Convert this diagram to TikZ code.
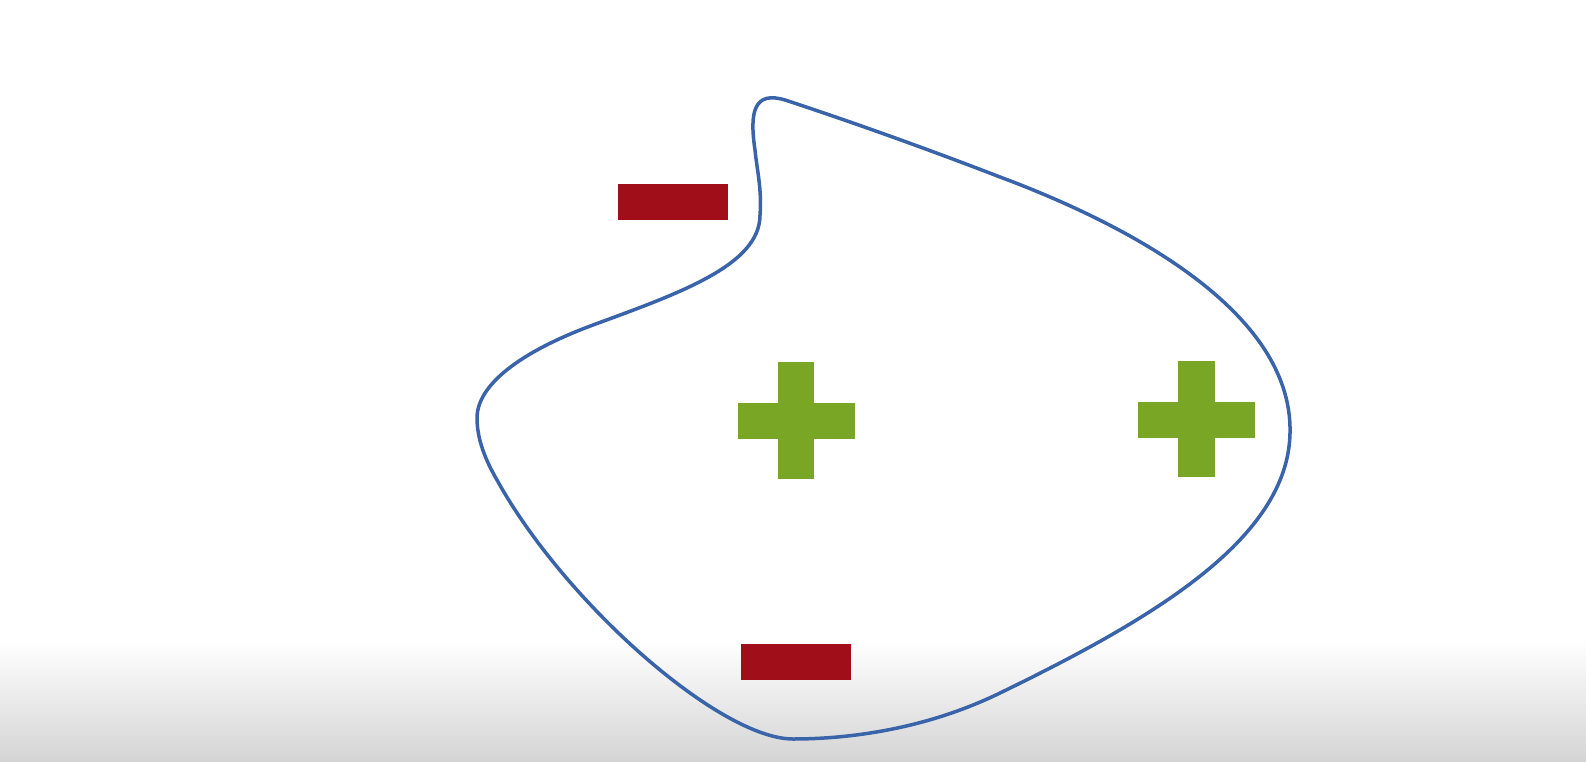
\documentclass[tikz,border=0pt]{standalone}
\definecolor{minusred}{RGB}{160,14,25}
\definecolor{plusgreen}{RGB}{122,166,38}
\definecolor{blobblue}{RGB}{58,100,170}
\definecolor{floorgray}{RGB}{212,212,212}
\tikzset{
  minusbar/.style={fill=minusred},
  plusbar/.style={fill=plusgreen},
  blobline/.style={draw=blobblue,line width=3.5pt,line join=round}
}
\begin{document}
\begin{tikzpicture}[x=1pt,y=-1pt]
\useasboundingbox (0,0) rectangle (1586,762);
\fill[white] (0,0) rectangle (1586,762);
\shade[top color=white,bottom color=floorgray] (0,640) rectangle (1586,762);
% minus signs
\fill[minusbar] (618,184) rectangle (728,220);
\fill[minusbar] (741,644) rectangle (851,680);
% plus signs
\fill[plusbar] (738,403) rectangle (855,439);
\fill[plusbar] (778,362) rectangle (814,479);
\fill[plusbar] (1138,402) rectangle (1255,438);
\fill[plusbar] (1178,361) rectangle (1215,477);
% blob
\draw[blobline]
  (785,100) .. controls (855,123) and (930,150) .. (1000,177)
  .. controls (1110,218) and (1293,305) .. (1290,433)
  .. controls (1288,540) and (1150,620) .. (1000,693)
  .. controls (920,732) and (840,739) .. (793,739)
  .. controls (720,739) and (565,603) .. (497,480)
  .. controls (486,461) and (477,440) .. (477,418)
  .. controls (477,385) and (520,352) .. (593,325)
  .. controls (680,293) and (760,265) .. (760,215)
  .. controls (762,190) and (757,170) .. (755,150)
  .. controls (749,110) and (755,91) .. cycle;
\end{tikzpicture}
\end{document}
